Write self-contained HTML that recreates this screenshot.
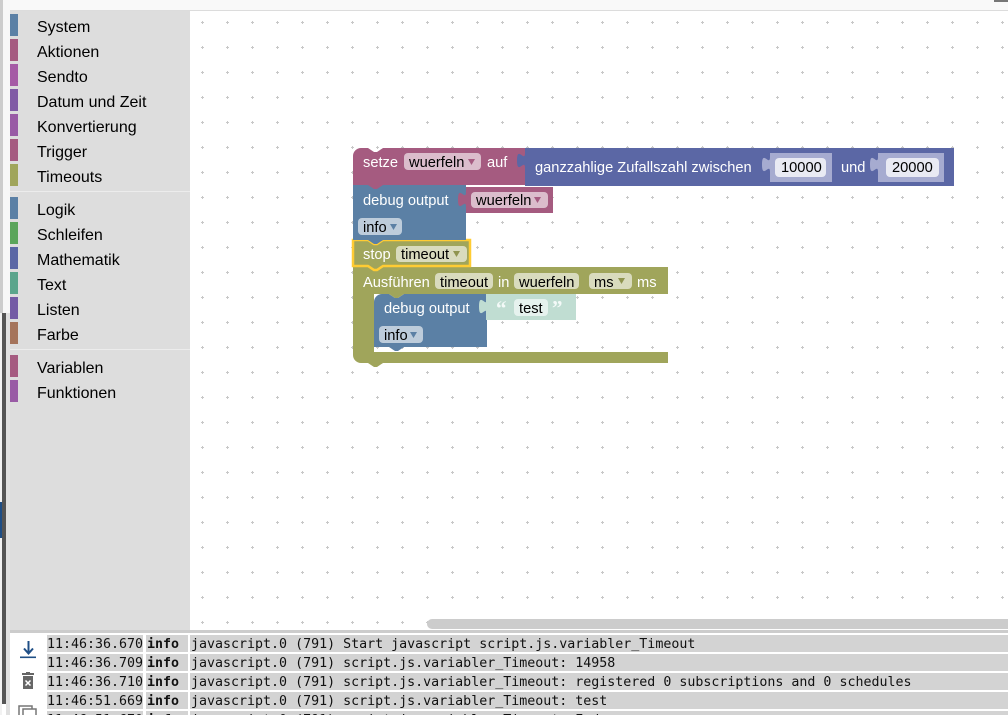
<!DOCTYPE html>
<html><head><meta charset="utf-8">
<style>
html,body{margin:0;padding:0;width:1008px;height:715px;overflow:hidden;background:#fff;font-family:"Liberation Sans",Arial,sans-serif;}
#wrap{position:relative;width:1008px;height:715px;overflow:hidden;}
.abs{position:absolute;}
#top{left:0;top:0;width:1008px;height:10px;background:#f9f9f9;border-bottom:1px solid #dcdcdc;}
#side{left:10px;top:11px;width:180px;height:619px;background:#dddddd;}
.it{position:absolute;left:0;width:180px;height:25px;}
.it .s{position:absolute;left:0;width:8px;height:22px;}
.it .t{position:absolute;left:27px;font-size:16px;color:#000;line-height:16px;white-space:nowrap;}
.sep{position:absolute;left:0;width:180px;height:1px;background:#ececec;}
#log{left:10px;top:633px;width:998px;height:82px;background:#fff;}
.cell{position:absolute;height:17px;background:#d3d3d3;}
.lt{position:absolute;font-family:"DejaVu Sans Mono","Liberation Mono",monospace;font-size:13.3px;line-height:17px;white-space:pre;color:#111;}
</style></head><body>
<div id="wrap">
<div id="top" class="abs"></div>
<div class="abs" style="left:994px;top:0;width:14px;height:2px;background:#777;"></div>
<!-- left edge -->
<div class="abs" style="left:0;top:0;width:3px;height:313px;background:#cccccc;"></div>
<div class="abs" style="left:3px;top:0;width:7px;height:313px;background:#f7f7f7;"></div>
<div class="abs" style="left:0;top:313px;width:2px;height:402px;background:#f2f2f2;"></div>
<div class="abs" style="left:2px;top:313px;width:4px;height:391px;background:#555;"></div>
<div class="abs" style="left:6px;top:313px;width:4px;height:402px;background:#e0e0e0;"></div>
<div class="abs" style="left:0;top:502px;width:2px;height:36px;background:#1f4e85;"></div>

<div id="side" class="abs">
 <div class="it" style="top:3px"><div class="s" style="background:#5b80a5"></div><div class="t" style="top:6px">System</div></div>
 <div class="it" style="top:28px"><div class="s" style="background:#a55b80"></div><div class="t" style="top:6px">Aktionen</div></div>
 <div class="it" style="top:53px"><div class="s" style="background:#a55ba5"></div><div class="t" style="top:6px">Sendto</div></div>
 <div class="it" style="top:78px"><div class="s" style="background:#805ba5"></div><div class="t" style="top:6px">Datum und Zeit</div></div>
 <div class="it" style="top:103px"><div class="s" style="background:#995ba5"></div><div class="t" style="top:6px">Konvertierung</div></div>
 <div class="it" style="top:128px"><div class="s" style="background:#a55b80"></div><div class="t" style="top:6px">Trigger</div></div>
 <div class="it" style="top:153px"><div class="s" style="background:#a0a55b"></div><div class="t" style="top:6px">Timeouts</div></div>
 <div class="sep" style="top:180px"></div>
 <div class="it" style="top:186px"><div class="s" style="background:#5b80a5"></div><div class="t" style="top:6px">Logik</div></div>
 <div class="it" style="top:211px"><div class="s" style="background:#5ba55b"></div><div class="t" style="top:6px">Schleifen</div></div>
 <div class="it" style="top:236px"><div class="s" style="background:#5b67a5"></div><div class="t" style="top:6px">Mathematik</div></div>
 <div class="it" style="top:261px"><div class="s" style="background:#5ba58c"></div><div class="t" style="top:6px">Text</div></div>
 <div class="it" style="top:286px"><div class="s" style="background:#745ba5"></div><div class="t" style="top:6px">Listen</div></div>
 <div class="it" style="top:311px"><div class="s" style="background:#a5745b"></div><div class="t" style="top:6px">Farbe</div></div>
 <div class="sep" style="top:338px"></div>
 <div class="it" style="top:344px"><div class="s" style="background:#a55b80"></div><div class="t" style="top:6px">Variablen</div></div>
 <div class="it" style="top:369px"><div class="s" style="background:#995ba5"></div><div class="t" style="top:6px">Funktionen</div></div>
</div>

<svg class="abs" style="left:190px;top:11px" width="818" height="619" viewBox="190 11 818 619" xmlns="http://www.w3.org/2000/svg" font-family="Liberation Sans, Arial, sans-serif" font-size="14.67">
<defs><pattern id="g" x="0" y="0" width="25" height="25" patternUnits="userSpaceOnUse"><path d="M1,22.5h3M2.5,21v3" stroke="#c8c8c8" stroke-width="1" fill="none"/></pattern></defs>
<rect x="190" y="11" width="818" height="619" fill="#fff"/>
<rect x="190" y="11" width="818" height="619" fill="url(#g)"/>
<rect x="427" y="619" width="590" height="10" rx="5" fill="#cccccc"/>

<!-- inner debug output -->
<path d="M374,302 a8,8 0 0 1 8,-8 H389 l6,4 h3 l6,-4 H487 V347 H404 l-6,4 h-3 l-6,-4 H374 Z" fill="#5b80a5"/>
<text x="384" y="313" fill="#fff">debug output</text>
<rect x="379" y="326" width="44" height="17" rx="4" fill="#bdccdb"/>
<text x="384" y="340" fill="#000">info</text>
<polygon points="410,332 417,332 413.5,338" fill="#5b80a5"/>

<!-- text shadow block -->
<path d="M487,299 c0,10 -8,-8 -8,7.5 s8,-2.5 8,7.5 Z" fill="#c0ddd2"/>
<rect x="486" y="294" width="90" height="26" fill="#c0ddd2"/>
<text x="496" y="315" fill="#f4faf8" font-family="Liberation Serif, serif" font-size="21" font-weight="bold">“</text>
<rect x="514" y="299" width="34" height="17" rx="4" fill="#e6f2ee"/>
<text x="519" y="313" fill="#000">test</text>
<text x="552" y="315" fill="#f4faf8" font-family="Liberation Serif, serif" font-size="21" font-weight="bold">”</text>

<!-- Ausfuehren C-block -->
<path d="M353,267 H368 l6,4 h3 l6,-4 H668 V294 H404 l-6,4 h-3 l-6,-4 H374 V352 H668 V363 H383 l-6,4 h-3 l-6,-4 H361 a8,8 0 0 1 -8,-8 Z" fill="#a0a55b"/>
<text x="363" y="287" fill="#fff">Ausführen</text>
<rect x="435" y="273" width="58" height="16" rx="4" fill="#d9dbbe"/>
<text x="440" y="287" fill="#000">timeout</text>
<text x="498" y="287" fill="#fff">in</text>
<rect x="514" y="273" width="65" height="16" rx="4" fill="#d9dbbe"/>
<text x="519" y="287" fill="#000">wuerfeln</text>
<rect x="589" y="273" width="43" height="16" rx="4" fill="#d9dbbe"/>
<text x="594" y="287" fill="#000">ms</text>
<polygon points="618,278 625,278 621.5,284" fill="#8f9450"/>
<text x="637" y="287" fill="#fff">ms</text>

<!-- stop block (selected) -->
<path d="M353,240 H368 l6,4 h3 l6,-4 H470 V266 H383 l-6,4 h-3 l-6,-4 H353 Z" fill="#a0a55b" stroke="#fc3" stroke-width="2.5"/>
<text x="363" y="259" fill="#fff">stop</text>
<rect x="396" y="246" width="71" height="16" rx="4" fill="#d9dbbe"/>
<text x="401" y="259" fill="#000">timeout</text>
<polygon points="453,251 460,251 456.5,257" fill="#8f9450"/>

<!-- debug output -->
<path d="M353,185 H466 V240 H383 l-6,4 h-3 l-6,-4 H353 Z" fill="#5b80a5"/>
<text x="363" y="205" fill="#fff">debug output</text>
<rect x="358" y="218" width="44" height="17" rx="4" fill="#bdccdb"/>
<text x="363" y="232" fill="#000">info</text>
<polygon points="390,224 397,224 393.5,230" fill="#5b80a5"/>

<!-- variable wuerfeln -->
<path d="M466,192 c0,10 -8,-8 -8,7.5 s8,-2.5 8,7.5 Z" fill="#a55b80"/>
<rect x="466" y="187" width="87" height="26" fill="#a55b80"/>
<rect x="471" y="192" width="77" height="16" rx="4" fill="#dbbdcc"/>
<text x="476" y="205" fill="#000">wuerfeln</text>
<polygon points="534,197 541,197 537.5,203" fill="#a55b80"/>

<!-- setze -->
<path d="M353,156 a8,8 0 0 1 8,-8 H368 l6,4 h3 l6,-4 H525 V185 H383 l-6,4 h-3 l-6,-4 H353 Z" fill="#a55b80"/>
<text x="363" y="167" fill="#fff">setze</text>
<rect x="404" y="153" width="77" height="17" rx="4" fill="#dbbdcc"/>
<text x="409" y="167" fill="#000">wuerfeln</text>
<polygon points="468,159 475,159 471.5,165" fill="#a55b80"/>
<text x="487" y="167" fill="#fff">auf</text>

<!-- ganzzahlige Zufallszahl -->
<path d="M525,153 c0,10 -8,-8 -8,7.5 s8,-2.5 8,7.5 Z" fill="#5b67a5"/>
<rect x="525" y="148" width="429" height="38" fill="#5b67a5"/>
<text x="535" y="172" fill="#fff">ganzzahlige Zufallszahl zwischen</text>
<path d="M770,157 c0,10 -8,-8 -8,7.5 s8,-2.5 8,7.5 Z" fill="#a6abd0"/>
<rect x="770" y="153" width="62" height="29" fill="#a6abd0"/>
<rect x="775" y="158" width="51" height="19" rx="4" fill="#e9eaf3"/>
<text x="781" y="172" fill="#000">10000</text>
<text x="841" y="172" fill="#fff">und</text>
<path d="M878,157 c0,10 -8,-8 -8,7.5 s8,-2.5 8,7.5 Z" fill="#a6abd0"/>
<rect x="878" y="153" width="66" height="29" fill="#a6abd0"/>
<rect x="886" y="158" width="53" height="19" rx="4" fill="#e9eaf3"/>
<text x="892" y="172" fill="#000">20000</text>
</svg>

<div class="abs" style="left:10px;top:630px;width:998px;height:3px;background:#cccccc;"></div>
<div id="log" class="abs">
 <svg class="abs" style="left:0;top:0" width="37" height="82" viewBox="10 633 37 82" xmlns="http://www.w3.org/2000/svg">
  <path d="M28.5,641 V653" stroke="#1f4f86" stroke-width="2"/>
  <path d="M24,648.5 L28.5,653.5 L33,648.5" stroke="#1f4f86" stroke-width="2" fill="none"/>
  <rect x="20" y="656.5" width="16" height="1.6" fill="#1f4f86"/>
  <rect x="22" y="673" width="12" height="2" fill="#666"/>
  <rect x="26" y="672" width="4" height="2" fill="#666"/>
  <rect x="23" y="676" width="10" height="13" fill="#666"/>
  <path d="M25.5,680.5 l5,5 M30.5,680.5 l-5,5" stroke="#fff" stroke-width="1.5"/>
  <rect x="19" y="706" width="13" height="14" fill="none" stroke="#777" stroke-width="1.5"/>
  <rect x="23" y="709" width="13" height="14" fill="#fff" stroke="#777" stroke-width="1.5"/>
 </svg>
</div>
<!-- log rows -->
 <div class="cell" style="left:47px;top:635px;width:96px"></div>
 <div class="cell" style="left:146px;top:635px;width:42px"></div>
 <div class="cell" style="left:190px;top:635px;width:818px"></div>
 <div class="cell" style="left:47px;top:654px;width:96px"></div>
 <div class="cell" style="left:146px;top:654px;width:42px"></div>
 <div class="cell" style="left:190px;top:654px;width:818px"></div>
 <div class="cell" style="left:47px;top:673px;width:96px"></div>
 <div class="cell" style="left:146px;top:673px;width:42px"></div>
 <div class="cell" style="left:190px;top:673px;width:818px"></div>
 <div class="cell" style="left:47px;top:692px;width:96px"></div>
 <div class="cell" style="left:146px;top:692px;width:42px"></div>
 <div class="cell" style="left:190px;top:692px;width:818px"></div>
 <div class="cell" style="left:47px;top:711px;width:96px"></div>
 <div class="cell" style="left:146px;top:711px;width:42px"></div>
 <div class="cell" style="left:190px;top:711px;width:818px"></div>

 <div class="lt" style="left:47px;top:636px">11:46:36.670</div>
 <div class="lt" style="left:147px;top:636px;font-weight:bold">info</div>
 <div class="lt" style="left:191px;top:636px">javascript.0 (791) Start javascript script.js.variabler_Timeout</div>
 <div class="lt" style="left:47px;top:655px">11:46:36.709</div>
 <div class="lt" style="left:147px;top:655px;font-weight:bold">info</div>
 <div class="lt" style="left:191px;top:655px">javascript.0 (791) script.js.variabler_Timeout: 14958</div>
 <div class="lt" style="left:47px;top:674px">11:46:36.710</div>
 <div class="lt" style="left:147px;top:674px;font-weight:bold">info</div>
 <div class="lt" style="left:191px;top:674px">javascript.0 (791) script.js.variabler_Timeout: registered 0 subscriptions and 0 schedules</div>
 <div class="lt" style="left:47px;top:693px">11:46:51.669</div>
 <div class="lt" style="left:147px;top:693px;font-weight:bold">info</div>
 <div class="lt" style="left:191px;top:693px">javascript.0 (791) script.js.variabler_Timeout: test</div>
 <div class="lt" style="left:47px;top:712px">11:46:51.670</div>
 <div class="lt" style="left:147px;top:712px;font-weight:bold">info</div>
 <div class="lt" style="left:191px;top:712px">javascript.0 (791) script.js.variabler_Timeout: Ende</div>
</div>
</body></html>
